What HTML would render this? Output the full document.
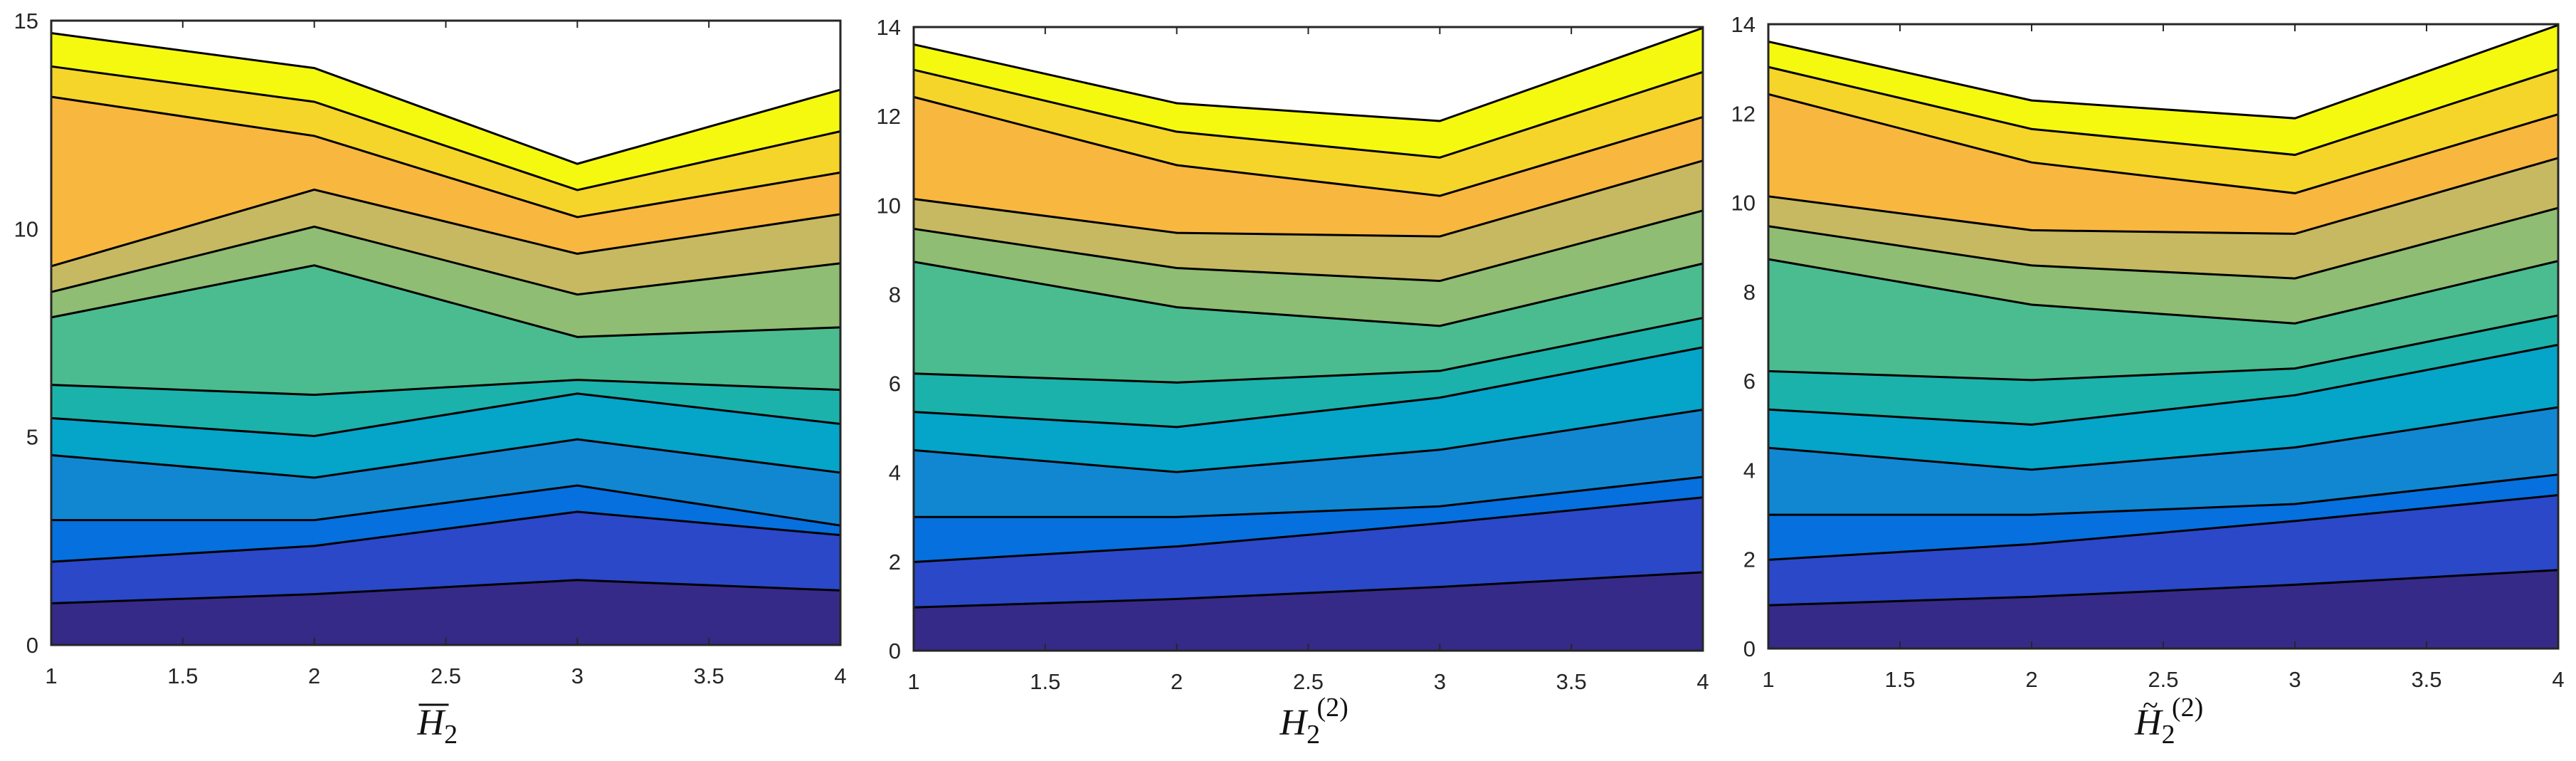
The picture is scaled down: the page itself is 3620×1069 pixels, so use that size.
<!DOCTYPE html>
<html><head><meta charset="utf-8"><style>
html,body{margin:0;padding:0;background:#fff;}
svg{display:block;}
</style></head><body>
<svg id="chart" width="3620" height="1069" viewBox="0 0 3620 1069" xmlns="http://www.w3.org/2000/svg"></svg>
<script>
// cumulative layer boundaries (12 layers) at x = 1,2,3,4
const xCats = [1, 2, 3, 4];
const xTicks = [1, 1.5, 2, 2.5, 3, 3.5, 4];
const xTickLabels = ["1", "1.5", "2", "2.5", "3", "3.5", "4"];
const yTicks1 = [0, 5, 10, 15];
const yTicks2 = [0, 2, 4, 6, 8, 10, 12, 14];
const p1x1 = [1.0, 2.0, 3.0, 4.56, 5.45, 6.25, 7.87, 8.48, 9.1, 13.17, 13.9, 14.7];
const p1x2 = [1.22, 2.38, 3.0, 4.02, 5.02, 6.01, 9.12, 10.05, 10.94, 12.23, 13.05, 13.86];
const p1x3 = [1.56, 3.2, 3.83, 4.94, 6.04, 6.37, 7.4, 8.42, 9.4, 10.28, 10.93, 11.56];
const p1x4 = [1.31, 2.64, 2.87, 4.14, 5.31, 6.13, 7.63, 9.17, 10.35, 11.35, 12.34, 13.34];
const p2x1 = [0.97, 1.99, 3.0, 4.5, 5.36, 6.22, 8.73, 9.47, 10.14, 12.43, 13.04, 13.61];
const p2x2 = [1.16, 2.34, 3.0, 4.01, 5.02, 6.02, 7.71, 8.59, 9.38, 10.9, 11.65, 12.29];
const p2x3 = [1.43, 2.86, 3.24, 4.51, 5.68, 6.28, 7.29, 8.3, 9.3, 10.21, 11.07, 11.89];
const p2x4 = [1.76, 3.44, 3.9, 5.41, 6.81, 7.47, 8.69, 9.88, 11.0, 11.98, 12.99, 13.98];
const colors = ["#352a87","#2a48c8","#0670de","#1187d2","#05a4c9","#1bb2ab","#4bbc8f","#8fbd73","#c7b961","#f8b73f","#f6d52a","#f5f910"];

const NS = "http://www.w3.org/2000/svg";
const svg = document.getElementById("chart");
function mk(tag, attrs, parent){const e=document.createElementNS(NS,tag);for(const k in attrs)e.setAttribute(k,attrs[k]);(parent||svg).appendChild(e);return e;}

const panels = [
  {name:"panel-h2-bar", L:72, R:1181, T:29, B:906, ymax:15, yt:yTicks1, cols:[p1x1,p1x2,p1x3,p1x4], label:"bar"},
  {name:"panel-h2-2", L:1284, R:2393, T:38, B:914, ymax:14, yt:yTicks2, cols:[p2x1,p2x2,p2x3,p2x4], label:"sup"},
  {name:"panel-h2-tilde", L:2485, R:3595, T:34, B:911, ymax:14, yt:yTicks2, cols:[p2x1,p2x2,p2x3,p2x4], label:"tilde"}
];

panels.forEach(p=>{
  const g = mk("g",{});
  
  
  const xs = v => p.L + (v-1)/3*(p.R-p.L);
  const ys = v => p.B - v/p.ymax*(p.B-p.T);
  const n = colors.length;
  for(let k=n-1;k>=0;k--){
    let d="M"+xs(xCats[0])+","+ys(0);
    xCats.forEach((c,i)=>{d+=" L"+xs(c)+","+ys(p.cols[i][k]);});
    d+=" L"+xs(xCats[3])+","+ys(0)+" Z";
    const a = mk("path",{d:d,fill:colors[k],stroke:"none"},g);
    
    
  }
  for(let k=0;k<n;k++){
    const pts = xCats.map((c,i)=>xs(c)+","+ys(p.cols[i][k])).join(" ");
    const l = mk("polyline",{points:pts,fill:"none",stroke:"#000","stroke-width":3},g);
    
    
  }
  const fr = mk("rect",{x:p.L,y:p.T,width:p.R-p.L,height:p.B-p.T,fill:"none",stroke:"#262626","stroke-width":3},g);
  
  
  xTicks.forEach((t,i)=>{
    const x=xs(t);
    mk("line",{x1:x,y1:p.T,x2:x,y2:p.T+10,stroke:"#262626","stroke-width":2},g);
    mk("line",{x1:x,y1:p.B,x2:x,y2:p.B-10,stroke:"#262626","stroke-width":2},g);
    const tx = mk("text",{x:x,y:p.B+54,"text-anchor":"middle","font-family":"Liberation Sans, sans-serif","font-size":31,fill:"#262626"},g);
    tx.textContent = xTickLabels[i];
    
    
  });
  p.yt.forEach(t=>{
    const y=ys(t);
    const ty = mk("text",{x:p.L-18,y:y+11,"text-anchor":"end","font-family":"Liberation Sans, sans-serif","font-size":31,fill:"#262626"},g);
    ty.textContent = String(t);
    
    
  });
  const cx = (p.L+p.R)/2;
  const lab = mk("text",{x:cx-40,y:1032,"font-family":"Liberation Serif, serif","font-size":52,"font-style":"italic",fill:"#111"},g);
  
  
  lab.textContent="H";
  const sub = mk("tspan",{"font-size":38,"font-style":"normal",dy:12},lab);
  sub.textContent="2";
  if(p.label==="bar"){
    mk("line",{x1:cx-38,y1:990,x2:cx+4,y2:990,stroke:"#111","stroke-width":3},g);
  } else {
    if(p.label==="tilde"){
      const tl = mk("text",{x:cx-18,y:1004,"text-anchor":"middle","font-family":"Liberation Serif, serif","font-size":40,fill:"#111"},g);
      tl.textContent="~";
    }
    const sp = mk("text",{x:cx+12,y:1006,"font-family":"Liberation Serif, serif","font-size":38,fill:"#111"},g);
    sp.textContent="(2)";
  }
});
</script>
</body></html>
